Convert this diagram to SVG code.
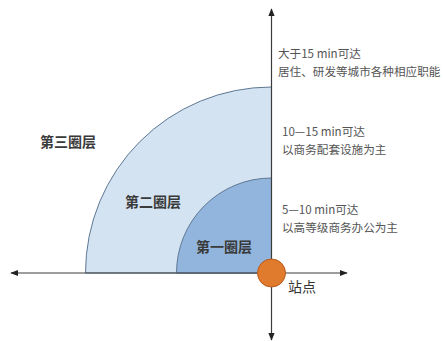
<svg xmlns="http://www.w3.org/2000/svg" width="443" height="341" viewBox="0 0 443 341">
<style>
.ring{stroke:#5f7894;stroke-width:1}
.lbl{font-family:"Noto Sans CJK SC","Liberation Sans",sans-serif;font-weight:bold;font-size:14px;fill:#3a3a3a}
.desc{font-family:"Noto Sans CJK SC","Liberation Sans",sans-serif;font-size:11.6px;fill:#555}
.axis{stroke:#3c3c3c;stroke-width:1.2;fill:none}
</style>
<defs>
<marker id="ah" viewBox="0 0 10 10" refX="9" refY="5" markerWidth="8" markerHeight="8" markerUnits="userSpaceOnUse" orient="auto">
<path d="M0,1 L10,5 L0,9 Z" fill="#222"/>
</marker>
</defs>
<rect width="443" height="341" fill="#fff"/>
<g id="ring3">
<path class="ring" d="M85.5,273 A186,186 0 0 1 271.5,87 L271.5,273 Z" fill="#d4e3f1"/>
<text class="lbl" x="40" y="147">第三圈层</text>
</g>
<g id="ring2">
<text class="lbl" x="125" y="207">第二圈层</text>
</g>
<g id="ring1">
<path class="ring" d="M176.5,273 A95,95 0 0 1 271.5,178 L271.5,273 Z" fill="#91b5dc"/>
<text class="lbl" x="196" y="252">第一圈层</text>
</g>
<g id="connectors">
<line class="axis" x1="271.5" y1="273" x2="271.5" y2="9" marker-end="url(#ah)"/>
<line class="axis" x1="271.5" y1="273" x2="271.5" y2="340" marker-end="url(#ah)"/>
<line class="axis" x1="271.5" y1="273" x2="11" y2="273" marker-end="url(#ah)"/>
<line class="axis" x1="271.5" y1="273" x2="347" y2="273" marker-end="url(#ah)"/>
</g>
<g id="station">
<circle cx="271.5" cy="273" r="14" fill="#e07b2e" stroke="#b85a1c" stroke-width="1"/>
<text x="288" y="292" font-family="'Noto Sans CJK SC','Liberation Sans',sans-serif" font-size="14" fill="#333">站点</text>
</g>
<g id="desc3">
<text class="desc" x="278" y="58">大于15 min可达</text>
<text class="desc" x="278" y="76">居住、研发等城市各种相应职能</text>
</g>
<g id="desc2">
<text class="desc" x="282" y="136">10—15 min可达</text>
<text class="desc" x="282" y="154">以商务配套设施为主</text>
</g>
<g id="desc1">
<text class="desc" x="282" y="214">5—10 min可达</text>
<text class="desc" x="282" y="232">以高等级商务办公为主</text>
</g>
</svg>
